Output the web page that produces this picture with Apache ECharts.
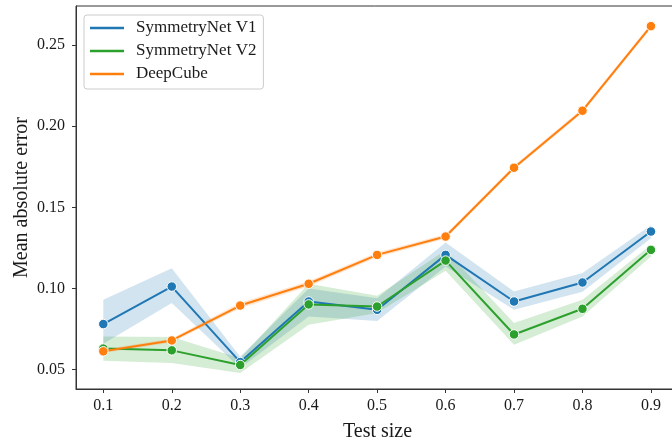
<!DOCTYPE html>
<html>
<head>
<meta charset="utf-8">
<script src="https://cdn.jsdelivr.net/npm/echarts@6/dist/echarts.min.js"></script>
<style>html,body{margin:0;padding:0;background:#fff}#c{width:672px;height:441px}</style>
</head>
<body>
<div id="c"></div>
<script>
var testSizes = [0.1, 0.2, 0.3, 0.4, 0.5, 0.6, 0.7, 0.8, 0.9];
var yTicks = [0.05, 0.10, 0.15, 0.20, 0.25];

var v1Mean  = [0.0781, 0.1012, 0.0547, 0.0920, 0.0869, 0.1207, 0.0920, 0.1037, 0.1351];
var v1Lower = [0.0660, 0.0910, 0.0510, 0.0827, 0.0800, 0.1135, 0.0869, 0.0980, 0.1310];
var v1Upper = [0.0931, 0.1125, 0.0580, 0.1000, 0.0940, 0.1283, 0.0982, 0.1095, 0.1390];

var v2Mean  = [0.0630, 0.0619, 0.0529, 0.0902, 0.0889, 0.1172, 0.0717, 0.0875, 0.1238];
var v2Lower = [0.0555, 0.0541, 0.0480, 0.0777, 0.0849, 0.1110, 0.0654, 0.0828, 0.1197];
var v2Upper = [0.0705, 0.0701, 0.0570, 0.1030, 0.0955, 0.1235, 0.0787, 0.0930, 0.1269];

var dcMean  = [0.0613, 0.0680, 0.0895, 0.1029, 0.1207, 0.1320, 0.1744, 0.2095, 0.2616];
var dcLower = [0.0603, 0.0668, 0.0878, 0.1013, 0.1193, 0.1306, 0.1731, 0.2081, 0.2602];
var dcUpper = [0.0624, 0.0692, 0.0913, 0.1045, 0.1221, 0.1334, 0.1757, 0.2109, 0.2630];

var names = ['SymmetryNet V1', 'SymmetryNet V2', 'DeepCube'];
var colors = ['#1f77b4', '#2ca02c', '#ff7f0e'];
var FONT = 'Liberation Serif';

function pairs(arr) { return testSizes.map(function (x, i) { return [x, arr[i]]; }); }

function bandSeries(key, lo, up, color) {
  return {
    type: 'custom', name: key + '_band', silent: true, z: 1, animation: false, clip: true,
    data: [[testSizes[0], lo[0]]],
    renderItem: function (params, api) {
      var pts = [];
      for (var i = 0; i < testSizes.length; i++) pts.push(api.coord([testSizes[i], up[i]]));
      for (var j = testSizes.length - 1; j >= 0; j--) pts.push(api.coord([testSizes[j], lo[j]]));
      return { type: 'polygon', shape: { points: pts }, style: { fill: color, opacity: 0.2 } };
    }
  };
}
function mainSeries(name, mean, color, z) {
  return { type: 'line', name: name, data: pairs(mean), symbol: 'circle', symbolSize: 9.5,
    itemStyle: { color: color, borderColor: '#ffffff', borderWidth: 1 },
    lineStyle: { color: color, width: 2 }, z: z, animation: false };
}

var series = [
  bandSeries('v1', v1Lower, v1Upper, colors[0]),
  bandSeries('v2', v2Lower, v2Upper, colors[1]),
  bandSeries('dc', dcLower, dcUpper, colors[2]),
  mainSeries(names[0], v1Mean, colors[0], 3),
  mainSeries(names[1], v2Mean, colors[1], 4),
  mainSeries(names[2], dcMean, colors[2], 5)
];

var chart = echarts.init(document.getElementById('c'), null, { renderer: 'canvas' });
chart.setOption({
  animation: false,
  backgroundColor: '#ffffff',
  grid: { left: 76, top: 6, right: -7, bottom: 52, show: true, borderColor: '#333333', borderWidth: 1,
    backgroundColor: 'transparent', containLabel: false, outerBoundsMode: 'none' },
  legend: {
    data: names.map(function (n, i) {
      return { name: n, icon: 'rect', itemStyle: { color: colors[i], borderWidth: 0, borderColor: colors[i] } };
    }),
    orient: 'vertical', left: 84, top: 15,
    itemWidth: 34, itemHeight: 2.5, itemGap: 3,
    padding: [3, 7, 5, 6],
    borderColor: '#cccccc', borderWidth: 1, borderRadius: 3,
    backgroundColor: 'rgba(255,255,255,0.8)',
    textStyle: { fontFamily: FONT, fontSize: 17, color: '#1a1a1a', lineHeight: 20, padding: [0, 0, 0, 7] },
    selectedMode: false
  },
  xAxis: {
    type: 'value', min: 0.0601, max: 0.941,
    name: 'Test size', nameLocation: 'middle', nameGap: 33, nameMoveOverlap: false,
    nameTextStyle: { fontFamily: FONT, fontSize: 20, color: '#1a1a1a' },
    axisLine: { show: true, lineStyle: { color: '#333333', width: 1 } },
    axisTick: { show: true, length: 4, lineStyle: { color: '#333333' }, customValues: testSizes },
    axisLabel: { fontFamily: FONT, fontSize: 16, color: '#1a1a1a', margin: 9, customValues: testSizes,
      formatter: function (v) { return v.toFixed(1); } },
    splitLine: { show: false }
  },
  yAxis: {
    type: 'value', min: 0.0381, max: 0.274,
    name: 'Mean absolute error', nameLocation: 'middle', nameGap: 44, nameMoveOverlap: false,
    nameTextStyle: { fontFamily: FONT, fontSize: 20, color: '#1a1a1a' },
    axisLine: { show: true, lineStyle: { color: '#333333', width: 1 } },
    axisTick: { show: true, length: 4, lineStyle: { color: '#333333' }, customValues: yTicks },
    axisLabel: { fontFamily: FONT, fontSize: 16, color: '#1a1a1a', margin: 11, customValues: yTicks,
      formatter: function (v) { return v.toFixed(2); } },
    splitLine: { show: false }
  },
  series: series
});
</script>
</body>
</html>
